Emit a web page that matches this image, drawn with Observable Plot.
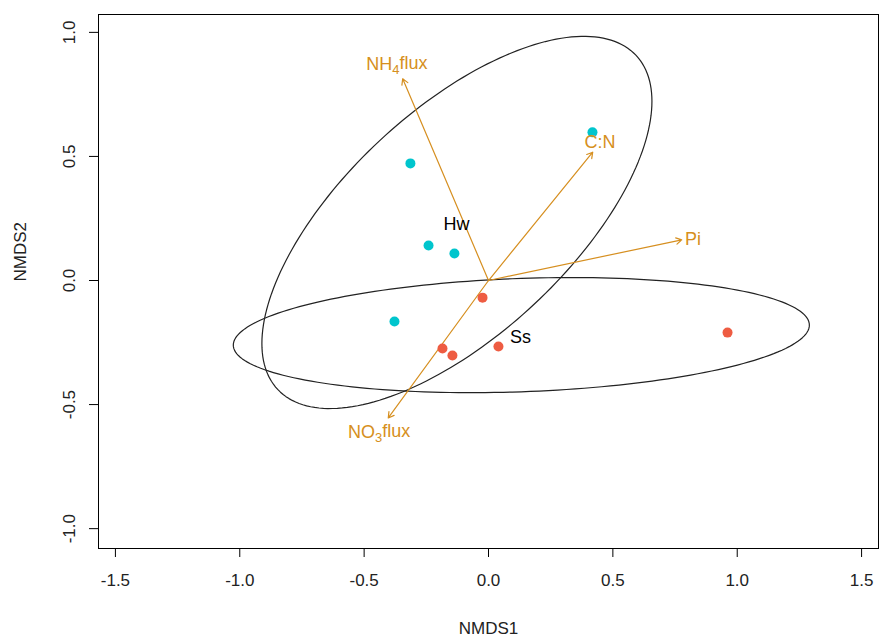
<!DOCTYPE html>
<html>
<head>
<meta charset="utf-8">
<script src="https://cdn.jsdelivr.net/npm/d3@7"></script>
<script src="https://cdn.jsdelivr.net/npm/@observablehq/plot@0.6"></script>
<style>
  body { margin: 0; background: #fff; }
  svg { font-family: "Liberation Sans", Arial, Helvetica, sans-serif; }
</style>
</head>
<body>
<div id="chart"></div>
<script>
// Site scores (NMDS1, NMDS2) and group
const siteGroup = ["Hw", "Hw", "Hw", "Hw", "Hw", "Ss", "Ss", "Ss", "Ss", "Ss"];
const siteX = [0.418, -0.314, -0.241, -0.137, -0.378, -0.024, -0.185, -0.145, 0.040, 0.961];
const siteY = [0.597, 0.472, 0.141, 0.109, -0.165, -0.069, -0.274, -0.302, -0.266, -0.210];

// Group labels (centroids)
const groupNames = ["Hw", "Ss"];
const groupX = [-0.129, 0.129];
const groupY = [0.226, -0.228];
const groupColors = ["#00C5CD", "#EE5C42"];

// Group ellipses: centre and covariance-like shape matrix
const ellipseCx = [-0.127, 0.132];
const ellipseCy = [0.234, -0.220];
const ellipseSxx = [0.6148, 1.341];
const ellipseSyy = [0.5625, 0.0538];
const ellipseSxy = [0.3826, 0.0467];

// Environmental vectors (envfit arrows)
const vecNames = ["NH4flux", "C:N", "Pi", "NO3flux"];
const vecX = [-0.345, 0.419, 0.777, -0.403];
const vecY = [0.813, 0.517, 0.164, -0.554];
const vecLabelX = [-0.368, 0.448, 0.822, -0.440];
const vecLabelY = [0.871, 0.556, 0.165, -0.613];

// Axis ticks
const xTicks = [-1.5, -1.0, -0.5, 0.0, 0.5, 1.0, 1.5];
const yTicks = [-1.0, -0.5, 0.0, 0.5, 1.0];

const arrowColor = "#D68F20";

const sites = siteX.map((x, i) => ({x, y: siteY[i], g: siteGroup[i]}));
const groups = groupNames.map((g, i) => ({g, x: groupX[i], y: groupY[i]}));
const vectors = vecNames.map((n, i) => ({n, x: vecX[i], y: vecY[i], lx: vecLabelX[i], ly: vecLabelY[i]}));

// ellipse outline via Cholesky of shape matrix
const ellipsePts = [];
groupNames.forEach((g, k) => {
  const a = Math.sqrt(ellipseSxx[k]);
  const b = ellipseSxy[k] / a;
  const c = Math.sqrt(ellipseSyy[k] - b * b);
  const n = 200;
  for (let i = 0; i <= n; i++) {
    const t = 2 * Math.PI * i / n;
    const u = Math.cos(t), v = Math.sin(t);
    ellipsePts.push({g, x: ellipseCx[k] + a * u, y: ellipseCy[k] + b * u + c * v});
  }
});

const fmt = d => d.toFixed(1);
const fontSize = 17;

const chart = Plot.plot({
  width: 880,
  height: 640,
  marginLeft: 98,
  marginRight: 2,
  marginTop: 14,
  marginBottom: 92,
  style: {fontFamily: '"Liberation Sans", Arial, Helvetica, sans-serif', fontSize: fontSize + "px", background: "#fff"},
  x: {domain: [-1.568, 1.568], axis: null},
  y: {domain: [-1.08, 1.072], axis: null},
  color: {domain: groupNames, range: groupColors},
  marks: [
    Plot.frame({stroke: "#000", strokeWidth: 1}),
    Plot.axisX({ticks: xTicks, tickSize: 9, tickFormat: () => "", label: null, stroke: "#000"}),
    Plot.axisY({ticks: yTicks, tickSize: 9, tickFormat: () => "", label: null, stroke: "#000"}),
    Plot.text(xTicks, {x: d => d, frameAnchor: "bottom", dy: 32, text: fmt, fill: "#222", fontSize: fontSize, lineAnchor: "middle"}),
    Plot.text(yTicks, {y: d => d, frameAnchor: "left", dx: -29, rotate: -90, text: fmt, fill: "#222", fontSize: fontSize, lineAnchor: "middle", textAnchor: "middle"}),
    // axis titles
    Plot.text(["NMDS1"], {frameAnchor: "bottom", dy: 80, text: d => d, fill: "#222", fontSize: fontSize, lineAnchor: "middle"}),
    Plot.text(["NMDS2"], {frameAnchor: "left", dx: -78, rotate: -90, text: d => d, fill: "#222", fontSize: fontSize, lineAnchor: "middle"}),
    // ellipses
    Plot.line(ellipsePts, {x: "x", y: "y", z: "g", stroke: "#222", strokeWidth: 1.2}),
    // arrows
    Plot.arrow(vectors, {x1: 0, y1: 0, x2: "x", y2: "y", stroke: arrowColor, strokeWidth: 1.2, headLength: 8, headAngle: 60, bend: 0, inset: 0}),
    // sites
    Plot.dot(sites, {x: "x", y: "y", fill: "g", r: 5, stroke: null}),
    // group labels
    Plot.text(groups, {x: "x", y: "y", text: "g", fill: "#000", fontSize: 18, lineAnchor: "middle"}),
    // vector labels
    Plot.text(vectors, {x: "lx", y: "ly", text: "n", fill: arrowColor, fontSize: 18, lineAnchor: "middle"})
  ]
});

// subscript digits for NH4 / NO3
d3.select(chart).selectAll("text").each(function() {
  const el = d3.select(this);
  const t = el.text();
  const m = /^(N[HO])(\d)(flux)$/.exec(t);
  if (m) {
    el.text(null);
    el.append("tspan").text(m[1]);
    el.append("tspan").attr("dy", "0.3em").attr("font-size", "0.72em").text(m[2]);
    el.append("tspan").attr("dy", "-0.3em").text(m[3]);
  }
});

document.getElementById("chart").appendChild(chart);
</script>
</body>
</html>
